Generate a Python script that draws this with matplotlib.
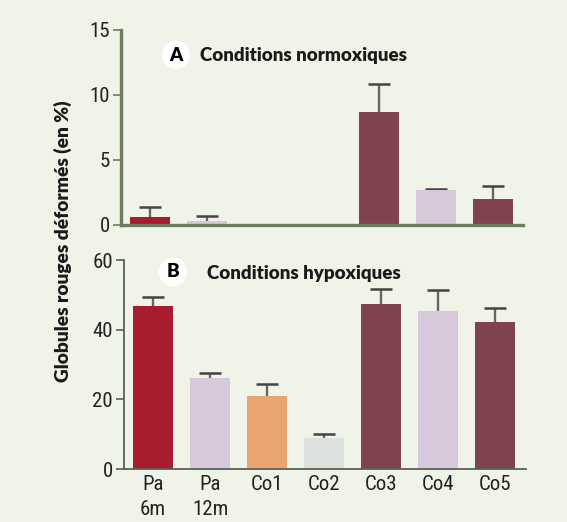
import numpy as np
import matplotlib
matplotlib.use("Agg")
import matplotlib.pyplot as plt

# données
groupes = ["Pa\n6m", "Pa\n12m", "Co1", "Co2", "Co3", "Co4", "Co5"]
normo = [0.62, 0.33, 0.0, 0.0, 8.7, 2.72, 2.0]
normo_haut = [1.38, 0.69, 0.0, 0.0, 10.85, 2.77, 3.0]
hypo = [46.9, 26.0, 21.0, 8.9, 47.4, 45.5, 42.2]
hypo_haut = [49.5, 27.7, 24.3, 10.1, 51.6, 51.5, 46.3]

couleurs = ["#a81c2e", "#d8c8dc", "#e9a56f", "#dde2df", "#7f4350", "#d8c8dc", "#7f4350"]
fond = "#f0f4e8"
tick_font = ["Liberation Sans Narrow", "Roboto Condensed", "DejaVu Sans"]
bold_font = ["Lato", "DejaVu Sans"]

fig = plt.figure(figsize=(5.67, 5.22), dpi=100, facecolor=fond)
ax1 = fig.add_axes([0.2134, 0.569, 0.7083, 0.3736])
ax2 = fig.add_axes([0.2187, 0.1015, 0.709, 0.4004])

x = np.arange(len(groupes))


def panneau(ax, vals, haut, ylim, yticks, axe_col, axe_lw):
    ax.set_facecolor(fond)
    # barre d'erreur supérieure seulement
    ax.vlines(x, vals, haut, color='#666666', linewidth=1.7, zorder=1)
    ax.plot(x, haut, ls='none', marker='_', markersize=16, markeredgewidth=1.8,
            color='#444444', zorder=1)
    ax.bar(x, vals, width=0.70, color=couleurs, zorder=2)
    ax.set_ylim(*ylim)
    ax.set_yticks(yticks)
    for s in ['top', 'right']:
        ax.spines[s].set_visible(False)
    for s in ['left', 'bottom']:
        ax.spines[s].set_color(axe_col)
        ax.spines[s].set_linewidth(axe_lw)
    ax.tick_params(axis='y', length=6, width=1.2, color=axe_col, pad=2,
                   labelsize=15, labelcolor='#222222')
    for lab in ax.get_yticklabels():
        lab.set_family(tick_font)
        lab.set_stretch('condensed')


panneau(ax1, normo, normo_haut, (0, 15), [0, 5, 10, 15], '#6a7d5c', 2.4)
ax1.set_xlim(-0.51, 6.52)
ax1.set_xticks([])

panneau(ax2, hypo, hypo_haut, (0, 60), [0, 20, 40, 60], '#5b6054', 1.3)
ax2.set_xlim(-0.51, 6.54)
ax2.set_xticks(x)
ax2.set_xticklabels(groupes, family=tick_font, stretch='condensed',
                    fontsize=15, color='#222222', linespacing=1.4)
ax2.tick_params(axis='x', length=0, pad=4)

# titres des panneaux avec lettre dans un cercle blanc
fig.text(0.3104, 0.8946, "A", family=bold_font, weight='heavy', fontsize=13.5,
         ha='center', va='center',
         bbox=dict(boxstyle='circle,pad=0.3', fc='white', ec='none'))
fig.text(0.3527, 0.8946, "Conditions normoxiques", family=bold_font, weight='heavy',
         fontsize=13.5, ha='left', va='center', color='#1a1a1a')
fig.text(0.3051, 0.479, "B", family=bold_font, weight='heavy', fontsize=13.5,
         ha='center', va='center',
         bbox=dict(boxstyle='circle,pad=0.3', fc='white', ec='none'))
fig.text(0.365, 0.477, "Conditions hypoxiques", family=bold_font, weight='heavy',
         fontsize=13.5, ha='left', va='center', color='#1a1a1a')

fig.text(0.111, 0.538, "Globules rouges déformés (en %)", family=bold_font,
         weight='heavy', fontsize=13.8, rotation=90, ha='center', va='center',
         color='#1a1a1a')

fig.savefig("out.png", dpi=100, facecolor=fond)
